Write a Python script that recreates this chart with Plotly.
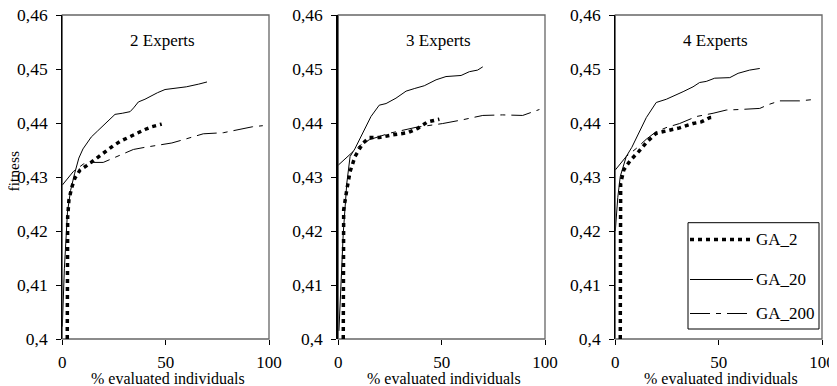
import plotly.graph_objects as go

# ---------------- data ----------------
PANEL_TITLES = ["2 Experts", "3 Experts", "4 Experts"]
SERIES_NAMES = ["GA_2", "GA_20", "GA_200"]
X_TICKS = [0, 50, 100]
X_TICK_TEXT = ["0", "50", "100"]
Y_TICKS = [0.40, 0.41, 0.42, 0.43, 0.44, 0.45, 0.46]
Y_TICK_TEXT = ["0,4", "0,41", "0,42", "0,43", "0,44", "0,45", "0,46"]

# 2 Experts
GA2_P1_X = [2.4, 2.4, 2.6, 3.2, 4.5, 6.1, 8.6, 11.8, 14.2, 16.6, 19.8, 22, 24.7, 28, 31.2, 34, 37.6, 40, 43.2, 46, 48.1]
GA2_P1_Y = [0.400, 0.412, 0.4226, 0.4257, 0.428, 0.4298, 0.4313, 0.4321, 0.4328, 0.4333, 0.4344, 0.435, 0.4358, 0.4366, 0.4372, 0.4378, 0.4384, 0.4388, 0.4393, 0.4396, 0.4398]
GA20_P1_X = [0, 1, 2.5, 4, 6, 8, 10, 12, 14, 17, 20.7, 25.5, 29, 32.8, 34.5, 36.8, 40, 43.2, 46, 49.7, 53.7, 60, 66, 70]
GA20_P1_Y = [0.4023, 0.413, 0.4235, 0.4275, 0.4307, 0.4335, 0.4352, 0.4364, 0.4374, 0.4385, 0.4399, 0.4416, 0.4418, 0.4421, 0.4428, 0.4439, 0.4444, 0.4451, 0.4456, 0.4462, 0.4464, 0.4467, 0.4472, 0.4476]
GA200_P1_X = [0, 5.3, 10.2, 15, 19.8, 23, 27.1, 34.4, 40, 47.3, 53, 58.5, 63, 68.2, 77.9, 82, 87.6, 92, 97]
GA200_P1_Y = [0.4285, 0.431, 0.4324, 0.4327, 0.4327, 0.4332, 0.4339, 0.4351, 0.4355, 0.4359, 0.4363, 0.4369, 0.4374, 0.438, 0.4382, 0.4385, 0.439, 0.4393, 0.4395]

# 3 Experts
GA2_P2_X = [2.4, 2.4, 2.6, 4.1, 5.7, 8.1, 11.8, 15, 19.8, 26.3, 33.6, 38.4, 43.2, 48.9]
GA2_P2_Y = [0.400, 0.412, 0.4239, 0.4276, 0.431, 0.4338, 0.4362, 0.4373, 0.4373, 0.4378, 0.4382, 0.439, 0.4402, 0.4407]
GA20_P2_X = [0.3, 1.2, 2.4, 4.1, 5.7, 8, 11, 15.8, 19.8, 23.1, 27.9, 32.8, 37, 41.6, 47.3, 52.1, 59.4, 63.4, 67.4, 69.9]
GA20_P2_Y = [0.4015, 0.41, 0.4196, 0.4288, 0.4338, 0.4352, 0.4375, 0.4412, 0.4433, 0.4436, 0.4446, 0.4459, 0.4464, 0.4469, 0.448, 0.4486, 0.4488, 0.4495, 0.4498, 0.4504]
GA200_P2_X = [0, 6.5, 10, 15, 24.7, 37.6, 50.5, 60.2, 69.9, 79.5, 89.2, 97.3]
GA200_P2_Y = [0.4322, 0.4344, 0.4357, 0.4369, 0.4381, 0.4392, 0.4399, 0.4406, 0.4414, 0.4415, 0.4414, 0.4425]

# 4 Experts
GA2_P3_X = [2.4, 2.4, 2.6, 4.1, 7.3, 11.3, 15.3, 19.8, 26.3, 31.1, 37.6, 41.6, 45.7, 48.1]
GA2_P3_Y = [0.400, 0.415, 0.4288, 0.4313, 0.4331, 0.4347, 0.4365, 0.4381, 0.4387, 0.4391, 0.4399, 0.4402, 0.441, 0.4411]
GA20_P3_X = [0, 1.2, 2.4, 3.8, 5.3, 8, 11, 15, 19.8, 24.7, 32.8, 37.6, 40.8, 44, 48.1, 55.4, 59.4, 65, 69.9]
GA20_P3_Y = [0.42, 0.4262, 0.4301, 0.432, 0.4338, 0.4355, 0.4378, 0.441, 0.4438, 0.4444, 0.4458, 0.4467, 0.4475, 0.4477, 0.4483, 0.4484, 0.4492, 0.4498, 0.4501]
GA200_P3_X = [0, 5.3, 10.2, 15, 19.8, 25, 31.1, 39.2, 47.3, 53.7, 60.2, 69.9, 74, 79.5, 89.2, 97.3]
GA200_P3_Y = [0.4313, 0.4338, 0.4353, 0.437, 0.4384, 0.4392, 0.4399, 0.4412, 0.4418, 0.4424, 0.4425, 0.4427, 0.4434, 0.4441, 0.4441, 0.4444]

# ---------------- layout helpers ----------------
# The page body has an 8px default margin, so the figure is placed at (8, 8)
# and sized to fit inside the 837x386 window.
OFF = 8
W, H = 837 - OFF, 386 - OFF
FONT = "Liberation Serif"

def fx(px):
    return (px - OFF) / W

def fy(py):
    return 1 - (py - OFF) / H

PANEL_LEFT = [62.3, 338.3, 615.3]
PANEL_WIDTH = 206.7
Y_DOM = [fy(339), fy(15)]

STYLES = {
    "GA_2": dict(color="black", width=3.5, dash="4px,4px"),
    "GA_20": dict(color="black", width=1),
    "GA_200": dict(color="black", width=1, dash="20px,6px,5px,6px"),
}

panels = [
    {"GA_2": (GA2_P1_X, GA2_P1_Y), "GA_20": (GA20_P1_X, GA20_P1_Y), "GA_200": (GA200_P1_X, GA200_P1_Y)},
    {"GA_2": (GA2_P2_X, GA2_P2_Y), "GA_20": (GA20_P2_X, GA20_P2_Y), "GA_200": (GA200_P2_X, GA200_P2_Y)},
    {"GA_2": (GA2_P3_X, GA2_P3_Y), "GA_20": (GA20_P3_X, GA20_P3_Y), "GA_200": (GA200_P3_X, GA200_P3_Y)},
]

fig = go.Figure()
shapes = []
annotations = []
layout = dict(
    template="none",
    width=W, height=H,
    margin=dict(l=0, r=0, t=0, b=0, pad=0),
    paper_bgcolor="white", plot_bgcolor="white",
    showlegend=False,
    font=dict(family=FONT, size=18, color="black"),
)

for i, pdata in enumerate(panels):
    n = i + 1
    suf = "" if n == 1 else str(n)
    for name in ["GA_200", "GA_20", "GA_2"]:
        xs, ys = pdata[name]
        fig.add_trace(go.Scatter(
            x=xs, y=ys, mode="lines", name=name, line=STYLES[name],
            xaxis="x" + suf, yaxis="y" + suf, showlegend=False,
        ))
    x0 = fx(PANEL_LEFT[i])
    x1 = fx(PANEL_LEFT[i] + PANEL_WIDTH)
    layout["xaxis" + suf] = dict(
        domain=[x0, x1], range=[0, 100], anchor="y" + suf,
        tickmode="array", tickvals=X_TICKS, ticktext=X_TICK_TEXT,
        ticks="outside", ticklen=5, tickcolor="black", tickwidth=1,
        ticklabelstandoff=3, ticklabeloverflow="allow",
        showline=False, showgrid=False, zeroline=False, automargin=False,
        tickfont=dict(family=FONT, size=17),
    )
    layout["yaxis" + suf] = dict(
        domain=Y_DOM, range=[0.40, 0.46], anchor="x" + suf,
        tickmode="array", tickvals=Y_TICKS, ticktext=Y_TICK_TEXT,
        ticks="outside", ticklen=5, tickcolor="black", tickwidth=1,
        ticklabelstandoff=5, ticklabeloverflow="allow",
        showline=True, linecolor="black", linewidth=2 if n == 2 else 1.2,
        showgrid=False, zeroline=False, automargin=False,
        tickfont=dict(family=FONT, size=17.5),
    )
    # frame
    shapes.append(dict(
        type="rect", xref=("x" + suf + " domain"), yref=("y" + suf + " domain"),
        x0=0, x1=1, y0=0, y1=1, line=dict(color="#666666", width=1.3), layer="below",
    ))
    cx = (PANEL_LEFT[i] + PANEL_WIDTH / 2)
    annotations.append(dict(
        text=PANEL_TITLES[i], x=fx(cx - 3), y=fy(40), xref="paper", yref="paper",
        showarrow=False, xanchor="center", yanchor="middle",
        font=dict(family=FONT, size=17),
    ))
    annotations.append(dict(
        text="% evaluated individuals", x=fx(cx + 2), y=fy(378), xref="paper", yref="paper",
        showarrow=False, xanchor="center", yanchor="middle",
        font=dict(family=FONT, size=16),
    ))

annotations.append(dict(
    text="fitness", x=fx(12.5), y=fy(172), xref="paper", yref="paper",
    showarrow=False, textangle=-90, xanchor="center", yanchor="middle",
    font=dict(family=FONT, size=15.5),
))

# legend box (drawn in panel 3)
shapes.append(dict(type="rect", xref="paper", yref="paper",
                   x0=fx(688), x1=fx(819), y0=fy(329), y1=fy(222.7),
                   line=dict(color="black", width=1), fillcolor="white", layer="above"))
legend_y = [239.5, 279.5, 313.5]
for name, ly in zip(SERIES_NAMES, legend_y):
    st = STYLES[name]
    shapes.append(dict(type="line", xref="paper", yref="paper",
                       x0=fx(690), x1=fx(753), y0=fy(ly), y1=fy(ly),
                       line=dict(color="black", width=st["width"], dash=st.get("dash", "solid")),
                       layer="above"))
    annotations.append(dict(
        text=name, x=fx(754), y=fy(ly), xref="paper", yref="paper",
        showarrow=False, xanchor="left", yanchor="middle",
        font=dict(family=FONT, size=17),
    ))

layout["shapes"] = shapes
layout["annotations"] = annotations
fig.update_layout(**layout)
fig.write_html("out.html")
